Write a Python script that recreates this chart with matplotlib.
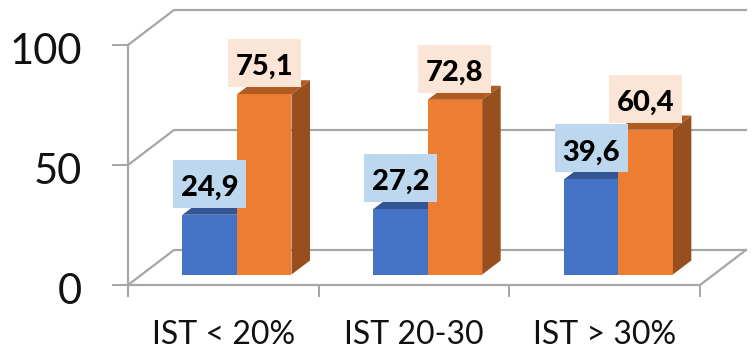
import matplotlib
matplotlib.use('Agg')
import matplotlib.pyplot as plt
from matplotlib.patches import Polygon, Rectangle

categories = ['IST < 20%', 'IST 20-30', 'IST > 30%']
blue_values = [24.9, 27.2, 39.6]
orange_values = [75.1, 72.8, 60.4]
blue_labels = ['24,9', '27,2', '39,6']
orange_labels = ['75,1', '72,8', '60,4']
y_ticks = [0, 50, 100]

W, H = 755, 361
X0, X1 = 128, 700     # front floor edge in pixels
Y0, Y100 = 285, 45
sx = (X1 - X0) / 3    # px per category
sy = (Y0 - Y100) / 100  # px per value unit

# depth of the box and of the bars, in data units
wall_dx, wall_dy = 46 / sx, 35 / sy
bar_dx, bar_dy = 18.5 / sx, 14 / sy
base = 10.5 / sy
bar_w = 54.5 / sx
bar_off = 54.5 / sx
box_w, box_h = 73 / sx, 48 / sy
box_gap = 31 / sy

GRID = '#a6a6a6'

fig = plt.figure(figsize=(W / 100, H / 100), dpi=100)
ax = fig.add_axes([0, 0, 1, 1])
ax.set_xlim(-X0 / sx, (W - X0) / sx)
ax.set_ylim((Y0 - H) / sy, Y0 / sy)
ax.axis('off')

# walls
for v in y_ticks:
    ax.plot([0, wall_dx, 3 + wall_dx], [v, v + wall_dy, v + wall_dy], color=GRID, lw=1.6, zorder=1)
    ax.plot([-15 / sx, 0], [v, v], color=GRID, lw=1.4, zorder=1)
    ax.text(-46 / sx, v - 19 / sy, str(v), fontsize=30, family='Lato', ha='right', va='baseline', color='#111111')
ax.plot([0, 0], [100, -11 / sy], color=GRID, lw=1.6, zorder=1)
ax.plot([0, 3, 3 + wall_dx], [0, 0, wall_dy], color=GRID, lw=1.6, zorder=1)
for i in range(1, 4):
    ax.plot([i, i], [0, -11 / sy], color=GRID, lw=1.4, zorder=1)


def draw_bar(x, value, front, top, side, z):
    y0, y1 = base, base + value
    ax.add_patch(Polygon([(x + bar_w, y0), (x + bar_w + bar_dx, y0 + bar_dy),
                          (x + bar_w + bar_dx, y1 + bar_dy), (x + bar_w, y1)],
                         facecolor=side, edgecolor='none', zorder=z))
    ax.add_patch(Polygon([(x, y1), (x + bar_dx, y1 + bar_dy),
                          (x + bar_w + bar_dx, y1 + bar_dy), (x + bar_w, y1)],
                         facecolor=top, edgecolor='none', zorder=z))
    ax.add_patch(Rectangle((x, y0), bar_w, value, facecolor=front, edgecolor='none', zorder=z + 0.1))


def draw_label(x, value, text, color):
    cx = x + bar_w / 2
    cy = base + value + box_gap
    ax.add_patch(Rectangle((cx - box_w / 2, cy - box_h / 2), box_w, box_h,
                           facecolor=color, edgecolor='none', zorder=10))
    ax.text(cx, cy - 12 / sy, text, fontsize=21, family='Lato', fontweight='black',
            ha='center', va='baseline', color='black', zorder=11)


for i, cat in enumerate(categories):
    xb = i + bar_off
    xo = xb + bar_w
    draw_bar(xb, blue_values[i], '#4472c4', '#335593', '#2f5291', 3)
    draw_bar(xo, orange_values[i], '#ed7d31', '#b15a21', '#97501d', 4)
    draw_label(xb, blue_values[i], blue_labels[i], '#bdd7ee')
    draw_label(xo, orange_values[i], orange_labels[i], '#fbe5d6')
    ax.text(i + 0.5, -59 / sy, cat, fontsize=23, family='Lato', ha='center', va='baseline', color='#111111')

fig.savefig('out.png', dpi=100)
